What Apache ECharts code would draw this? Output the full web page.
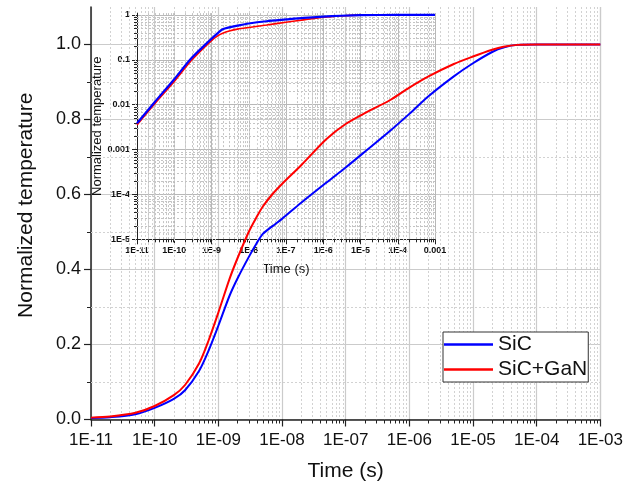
<!DOCTYPE html>
<html>
<head>
<meta charset="utf-8">
<script src="https://cdn.jsdelivr.net/npm/echarts@6/dist/echarts.min.js"></script>
<style>
  html, body { margin: 0; padding: 0; background: #fff; }
  #chart { width: 626px; height: 487px; }
</style>
</head>
<body>
<div id="chart"></div>
<script>
// Normalized temperature rise vs. time for the two stacks (log time axis),
// with a log-log inset of the same transient.

const seriesNames = ['SiC', 'SiC+GaN'];

// Main panel: time (s) and normalized temperature
const mainTime = [1e-11, 2e-11, 5e-11, 1e-10, 2e-10, 3e-10, 5e-10, 7e-10, 1e-9, 1.5e-9,
                  2e-9, 3e-9, 4e-9, 5e-9, 7e-9, 1e-8, 2e-8, 5e-8, 1e-7, 2e-7,
                  5e-7, 1e-6, 2e-6, 5e-6, 1e-5, 2e-5, 3e-5, 5e-5, 1e-4, 1e-3];
const mainSiC = [0.004, 0.006, 0.014, 0.031, 0.055, 0.078, 0.13, 0.183, 0.25, 0.33,
                 0.376, 0.433, 0.47, 0.495, 0.515, 0.535, 0.578, 0.632, 0.672, 0.714,
                 0.77, 0.815, 0.862, 0.915, 0.95, 0.98, 0.992, 0.999, 1.0, 1.0];
const mainSiCGaN = [0.005, 0.008, 0.018, 0.036, 0.065, 0.092, 0.15, 0.21, 0.285, 0.375,
                    0.43, 0.50, 0.54, 0.568, 0.60, 0.628, 0.678, 0.748, 0.788, 0.817,
                    0.852, 0.885, 0.915, 0.948, 0.968, 0.986, 0.994, 0.999, 1.0, 1.0];

// Inset panel (log-log)
const insetTime = [1e-11, 3e-11, 1e-10, 3e-10, 1e-9, 1.5e-9, 2e-9, 3e-9, 5e-9, 1e-8,
                   3e-8, 1e-7, 3e-7, 1e-6, 3e-6, 1e-5, 1e-4, 1e-3];
const insetSiC = [0.00385, 0.0115, 0.037, 0.112, 0.295, 0.40, 0.48, 0.53, 0.58, 0.645,
                  0.724, 0.794, 0.86, 0.918, 0.96, 0.99, 1.0, 1.0];
const insetSiCGaN = [0.00355, 0.0105, 0.033, 0.10, 0.268, 0.345, 0.39, 0.437, 0.484, 0.527,
                     0.596, 0.687, 0.776, 0.887, 0.95, 0.989, 1.0, 1.0];

// Tick labels
const mainTimeLabels = ['1E-11', '1E-10', '1E-09', '1E-08', '1E-07', '1E-06', '1E-05', '1E-04', '1E-03'];
const mainTempLabels = ['0.0', '0.2', '0.4', '0.6', '0.8', '1.0'];
const insetTimeLabels = ['1E-11', '1E-10', '1E-9', '1E-8', '1E-7', '1E-6', '1E-5', '1E-4', '0.001'];
const insetTempLabels = ['1E-5', '1E-4', '0.001', '0.01', '0.1', '1'];

const FONT = "'Liberation Sans', Arial, sans-serif";
const INK = '#111';
const BLUE = '#0000ff';
const RED = '#ff0000';

const pairs = (xs, ys) => xs.map((x, i) => [x, ys[i]]);
const expOf = v => Math.log10(v);
const isDecade = v => Math.abs(expOf(v) - Math.round(expOf(v))) < 1e-6;

// 2..9 multiples inside each decade, for minor ticks and dotted grid lines
function logMinors(loExp, hiExp) {
  const out = [];
  for (let e = loExp; e < hiExp; e++) {
    for (let m = 2; m <= 9; m++) out.push(m * Math.pow(10, e));
  }
  return out;
}

// Minor grid lines + minor ticks drawn through the axis scale of a grid
function minorLayer(o) {
  return {
    type: 'custom',
    xAxisIndex: o.grid,
    yAxisIndex: o.grid,
    silent: true,
    clip: false,
    z: 1,
    data: o.values.map(v => (o.dim === 'x' ? [v, o.ref] : [o.ref, v])),
    renderItem: function (params, api) {
      const cs = params.coordSys;
      const kids = [];
      if (o.dim === 'x') {
        const x = Math.round(api.coord([api.value(0), o.ref])[0]) + 0.5;
        const yb = cs.y + cs.height;
        kids.push({ type: 'line', shape: { x1: x, y1: cs.y, x2: x, y2: yb },
          style: { stroke: o.gridColor, lineWidth: 1, lineDash: [2, 2] } });
        kids.push({ type: 'line', shape: { x1: x, y1: yb, x2: x, y2: yb + o.tick },
          style: { stroke: '#222', lineWidth: 1 } });
      } else {
        const y = Math.round(api.coord([o.ref, api.value(1)])[1]) + 0.5;
        kids.push({ type: 'line', shape: { x1: cs.x, y1: y, x2: cs.x + cs.width, y2: y },
          style: { stroke: o.gridColor, lineWidth: 1, lineDash: [2, 2] } });
        kids.push({ type: 'line', shape: { x1: cs.x - o.tick, y1: y, x2: cs.x, y2: y },
          style: { stroke: '#222', lineWidth: 1 } });
      }
      return { type: 'group', children: kids };
    }
  };
}

function curve(name, grid, xs, ys, color, width) {
  return {
    name: name, type: 'line', xAxisIndex: grid, yAxisIndex: grid,
    data: pairs(xs, ys), showSymbol: false, symbol: 'none',
    smooth: 0.3, z: 3,
    lineStyle: { color: color, width: width }, itemStyle: { color: color }
  };
}

const chart = echarts.init(document.getElementById('chart'), null, { renderer: 'canvas' });

chart.setOption({
  animation: false,
  backgroundColor: '#fff',
  textStyle: { fontFamily: FONT },
  grid: [
    { left: 91, right: 22.5, top: 7, bottom: 67.5 },
    { left: 137, right: 191, top: 13.1, bottom: 247.7 }
  ],
  legend: {
    data: seriesNames,
    orient: 'vertical',
    left: 443,
    top: 332,
    icon: 'rect',
    backgroundColor: '#fff',
    borderColor: '#333',
    borderWidth: 1,
    borderRadius: 0,
    padding: [2, 1, 2, 1],
    itemWidth: 49,
    itemHeight: 2.5,
    itemGap: 4,
    textStyle: { fontSize: 21, color: INK, fontFamily: FONT, lineHeight: 21 }
  },
  xAxis: [
    {
      type: 'log', gridIndex: 0, logBase: 10, min: 1e-11, max: 1e-3, splitNumber: 8,
      name: 'Time (s)', nameLocation: 'middle', nameGap: 41,
      nameTextStyle: { fontSize: 21, color: INK, fontFamily: FONT },
      axisLine: { lineStyle: { color: '#222', width: 1.5 } },
      axisTick: { inside: false, length: 7, lineStyle: { color: '#222', width: 1.2 } },
      axisLabel: {
        fontSize: 17, color: INK, margin: 12, fontFamily: FONT,
        formatter: v => isDecade(v) ? (mainTimeLabels[Math.round(expOf(v)) + 11] || '') : ''
      },
      splitLine: { show: true, lineStyle: { color: '#cbcbcb', width: 1.2 } }
    },
    {
      type: 'log', gridIndex: 1, logBase: 10, min: 1e-11, max: 1e-3, splitNumber: 8,
      name: 'Time (s)', nameLocation: 'middle', nameGap: 24,
      nameTextStyle: { fontSize: 13, color: INK, fontFamily: FONT },
      axisLine: { lineStyle: { color: '#222', width: 1 } },
      axisTick: { inside: false, length: 5, lineStyle: { color: '#222', width: 1 } },
      axisLabel: {
        fontSize: 9, fontWeight: 'bold', color: INK, margin: 7, fontFamily: FONT,
        formatter: v => isDecade(v) ? (insetTimeLabels[Math.round(expOf(v)) + 11] || '') : ''
      },
      splitLine: { show: true, lineStyle: { color: '#b8b8b8', width: 1 } }
    }
  ],
  yAxis: [
    {
      type: 'value', gridIndex: 0, min: 0, max: 1.1, interval: 0.2,
      name: 'Normalized temperature', nameLocation: 'middle', nameGap: 54,
      nameTextStyle: { fontSize: 21, color: INK, fontFamily: FONT, padding: [0, 0, 0, 16] },
      axisLine: { show: true, lineStyle: { color: '#222', width: 1.5 } },
      axisTick: { show: true, inside: false, length: 7, lineStyle: { color: '#222', width: 1.2 } },
      axisLabel: {
        fontSize: 18, color: INK, margin: 10, fontFamily: FONT, showMaxLabel: false,
        formatter: v => {
          const k = Math.round(v / 0.2);
          return Math.abs(v - k * 0.2) < 1e-6 ? (mainTempLabels[k] || '') : '';
        }
      },
      splitLine: { show: true, showMaxLine: false, lineStyle: { color: '#cbcbcb', width: 1.2 } }
    },
    {
      type: 'log', gridIndex: 1, logBase: 10, min: 1e-5, max: 1.1, splitNumber: 8,
      name: 'Normalized temperature', nameLocation: 'middle', nameGap: 33,
      nameTextStyle: { fontSize: 13, color: INK, fontFamily: FONT },
      axisLine: { show: true, lineStyle: { color: '#222', width: 1 } },
      axisTick: { show: true, inside: false, length: 5, lineStyle: { color: '#222', width: 1 } },
      axisLabel: {
        fontSize: 9, fontWeight: 'bold', color: INK, margin: 7, fontFamily: FONT, showMaxLabel: false,
        formatter: v => isDecade(v) ? (insetTempLabels[Math.round(expOf(v)) + 5] || '') : ''
      },
      splitLine: { show: true, showMaxLine: false, lineStyle: { color: '#b8b8b8', width: 1 } }
    }
  ],
  series: [
    minorLayer({ grid: 0, dim: 'x', values: logMinors(-11, -3), ref: 0.5, tick: 4, gridColor: '#d2d2d2' }),
    minorLayer({ grid: 0, dim: 'y', values: [0.1, 0.3, 0.5, 0.7, 0.9], ref: 1e-6, tick: 4, gridColor: '#d2d2d2' }),
    minorLayer({ grid: 1, dim: 'x', values: logMinors(-11, -3), ref: 0.01, tick: 3, gridColor: '#c4c4c4' }),
    minorLayer({ grid: 1, dim: 'y', values: logMinors(-5, 0), ref: 1e-6, tick: 3, gridColor: '#c4c4c4' }),
    curve(seriesNames[0], 0, mainTime, mainSiC, BLUE, 2),
    curve(seriesNames[1], 0, mainTime, mainSiCGaN, RED, 2),
    curve(seriesNames[1], 1, insetTime, insetSiCGaN, RED, 1.6),
    curve(seriesNames[0], 1, insetTime, insetSiC, BLUE, 2.2)
  ]
});
</script>
</body>
</html>
